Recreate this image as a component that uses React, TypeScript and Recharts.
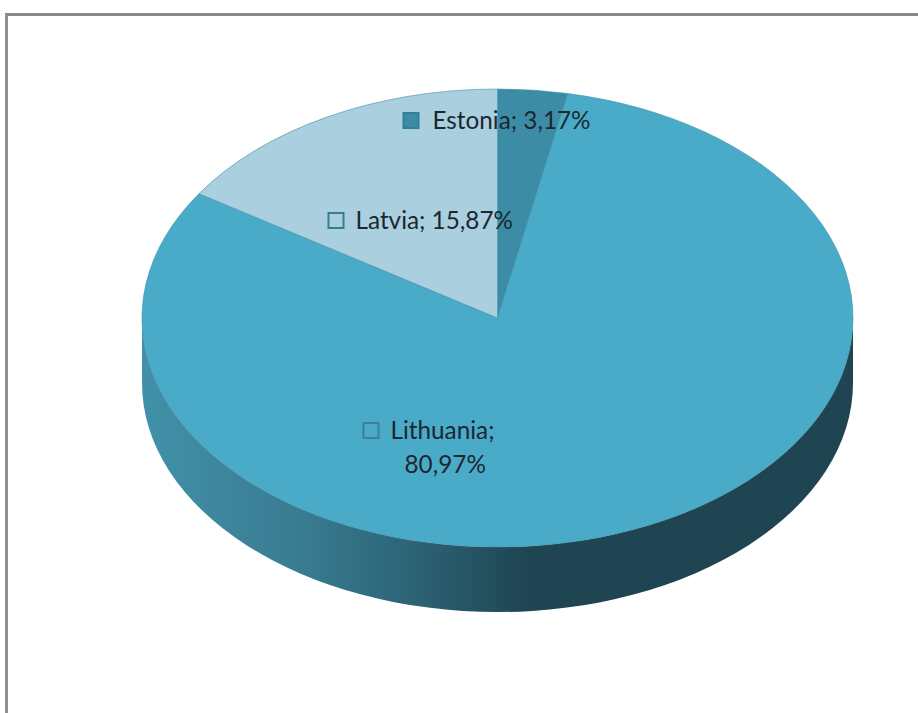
import { Pie, PieChart } from "recharts";

const categories = ["Estonia", "Lithuania", "Latvia"];
const shares = [3.17, 80.97, 15.87];
const sliceColors = ["#3d8ca6", "#4aabc9", "#aacfdf"];
const keyStrokes = ["#347f98", "#3d7f97", "#357f96"];

const data = categories.map((name, i) => ({ name, value: shares[i] }));
const wall = [{ name: "wall", value: 100 }];

const CX = 497.5;
const CY = 318;
const RX = 355.5;
const SQUASH = 229 / 355.5;
const DEPTH = 65;

// label placement relative to pie centre: key box x, text x, baseline y
const labelSpots = [
  { key: -94, text: -65, y: -189 },
  { key: -134, text: -107, y: 121 },
  { key: -169, text: -142, y: -89 },
];

const pt = (cx: number, cy: number, r: number, deg: number) => {
  const a = (deg * Math.PI) / 180;
  return [cx + r * Math.cos(a), cy - r * SQUASH * Math.sin(a)];
};

function EllipseSlice(props: any) {
  const { cx, cy, outerRadius, startAngle, endAngle, fill } = props;
  const [x0, y0] = pt(cx, cy, outerRadius, startAngle);
  const [x1, y1] = pt(cx, cy, outerRadius, endAngle);
  const large = Math.abs(startAngle - endAngle) > 180 ? 1 : 0;
  const ry = outerRadius * SQUASH;
  return (
    <path
      d={`M${cx},${cy} L${x0},${y0} A${outerRadius},${ry} 0 ${large} 1 ${x1},${y1} Z`}
      fill={fill}
      stroke="#3f8ea8"
      strokeWidth={0.6}
    />
  );
}

function WallShape(props: any) {
  const { cx, cy, outerRadius } = props;
  const ry = outerRadius * SQUASH;
  const l = cx - outerRadius;
  const r = cx + outerRadius;
  return (
    <path
      d={`M${l},${cy} A${outerRadius},${ry} 0 0 0 ${r},${cy} L${r},${cy + DEPTH} A${outerRadius},${ry} 0 0 1 ${l},${cy + DEPTH} Z`}
      fill="url(#wallFill)"
    />
  );
}

function SliceLabel(props: any) {
  const { cx, cy, index, name, value } = props;
  const spot = labelSpots[index];
  const pct = `${value.toFixed(2).replace(".", ",")}%`;
  const two = name === "Lithuania";
  return (
    <g fontFamily="Lato" fontSize={24.3} fill="#1c2730">
      <rect
        x={cx + spot.key}
        y={cy + spot.y - 16}
        width={15}
        height={15}
        fill={sliceColors[index]}
        stroke={keyStrokes[index]}
        strokeWidth={2}
      />
      <text x={cx + spot.text} y={cy + spot.y}>
        {two ? `${name};` : `${name}; ${pct}`}
      </text>
      {two && (
        <text x={cx - 93} y={cy + spot.y + 34}>
          {pct}
        </text>
      )}
    </g>
  );
}

export default function App() {
  return (
    <div style={{ position: "fixed", left: 0, top: 0, width: 918, height: 713, background: "#fff" }}>
      <div
        style={{
          position: "absolute",
          left: 5,
          top: 13,
          width: 913,
          height: 700,
          boxSizing: "border-box",
          borderTop: "3px solid #8a8a8a",
          borderLeft: "3px solid #909090",
        }}
      />
      <div style={{ position: "absolute", left: 0, top: 0 }}>
        <PieChart width={918} height={713} margin={{ top: 0, right: 0, bottom: 0, left: 0 }}>
          <defs>
            <linearGradient id="wallFill" gradientUnits="userSpaceOnUse" x1={142} x2={853} y1={0} y2={0}>
              <stop offset="0" stopColor="#4191a9" />
              <stop offset="0.22" stopColor="#397c92" />
              <stop offset="0.4" stopColor="#2b6072" />
              <stop offset="0.54" stopColor="#1f4552" />
              <stop offset="1" stopColor="#1f4552" />
            </linearGradient>
          </defs>
          <Pie
            data={wall}
            dataKey="value"
            cx={CX}
            cy={CY}
            outerRadius={RX}
            startAngle={90}
            endAngle={-270}
            shape={WallShape}
            isAnimationActive={false}
            legendType="none"
          />
          <Pie
            data={data.map((d, i) => ({ ...d, fill: sliceColors[i] }))}
            dataKey="value"
            nameKey="name"
            cx={CX}
            cy={CY}
            outerRadius={RX}
            startAngle={90}
            endAngle={-270}
            shape={EllipseSlice}
            label={SliceLabel}
            labelLine={false}
            isAnimationActive={false}
          />
        </PieChart>
      </div>
    </div>
  );
}
